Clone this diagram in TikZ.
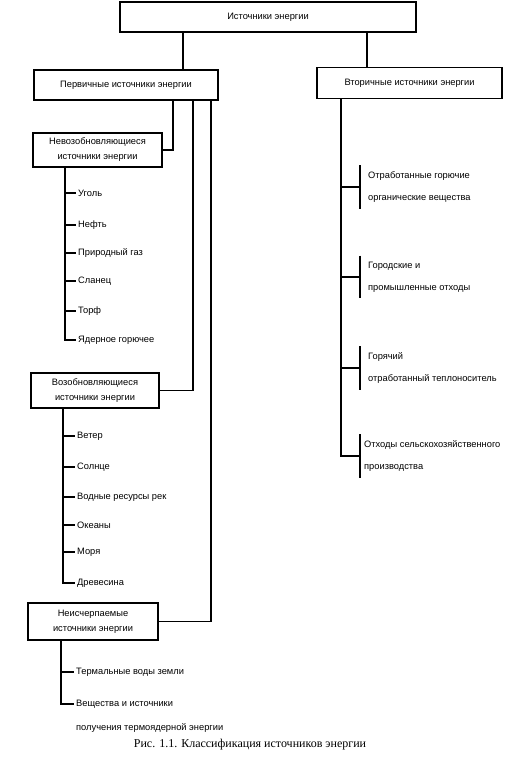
\documentclass[tikz,border=0pt]{standalone}
\usepackage{fontspec}
\setmainfont{Liberation Sans}
\newfontfamily\capfont{Liberation Serif}
\usetikzlibrary{positioning}

\begin{document}
\begin{tikzpicture}[
  x=1pt, y=-1pt,
  font=\fontsize{9.3}{11}\selectfont,
  box/.style={draw, line width=1.1pt, align=center},
  link/.style={line width=1.1pt},
  item/.style={anchor=west, inner sep=2pt},
  pair/.style={anchor=west, align=left, inner xsep=8pt, inner ysep=6pt},
]
  \useasboundingbox (0,0) rectangle (521,768);

  % Boxes
  \node[box, minimum width=296pt, minimum height=30pt] (src)   at (268,17)    {Источники энергии};
  \node[box, minimum width=184pt, minimum height=30pt] (perv)  at (126,85)    {Первичные источники энергии};
  \node[box, minimum width=185pt, minimum height=31pt] (vtor)  at (409.5,83)  {Вторичные источники энергии};
  \node[box, minimum width=129pt, minimum height=34pt] (nevoz) at (97.5,150)  {Невозобновляющиеся\\[4pt]источники энергии};
  \node[box, minimum width=128pt, minimum height=35pt] (voz)   at (95,390.5)  {Возобновляющиеся\\[4pt]источники энергии};
  \node[box, minimum width=130pt, minimum height=37pt] (neis)  at (93,621.5)  {Неисчерпаемые\\[4pt]источники энергии};

  % Line positions
  \coordinate (pl) at (183,0);
  \coordinate (vl) at (367,0);
  \coordinate (l1) at (173,0);
  \coordinate (l2) at (193,0);
  \coordinate (l3) at (211,0);
  \coordinate (nvt) at (65,0);
  \coordinate (vzt) at (63,0);
  \coordinate (nst) at (61,0);
  \coordinate (vrt) at (341,0);

  % Top links
  \draw[link] (src.south -| pl) -- (perv.north -| pl);
  \draw[link] (src.south -| vl) -- (vtor.north -| vl);
  \draw[link] (perv.south -| l1) |- (nevoz.east);
  \draw[link] (perv.south -| l2) |- (voz.east);
  \draw[link] (perv.south -| l3) |- (neis.east);

  % Non-renewable
  \node[item] (n1) at (76,193) {Уголь};
  \node[item] (n2) at (76,225) {Нефть};
  \node[item] (n3) at (76,253) {Природный газ};
  \node[item] (n4) at (76,281) {Сланец};
  \node[item] (n5) at (76,311) {Торф};
  \node[item] (n6) at (76,340) {Ядерное горючее};
  \draw[link] (nevoz.south -| nvt) |- (n6.west);
  \draw[link] (n1.west -| nvt) -- (n1.west);
  \draw[link] (n2.west -| nvt) -- (n2.west);
  \draw[link] (n3.west -| nvt) -- (n3.west);
  \draw[link] (n4.west -| nvt) -- (n4.west);
  \draw[link] (n5.west -| nvt) -- (n5.west);

  % Renewable
  \node[item] (r1) at (75,436) {Ветер};
  \node[item] (r2) at (75,467) {Солнце};
  \node[item] (r3) at (75,497) {Водные ресурсы рек};
  \node[item] (r4) at (75,525) {Океаны};
  \node[item] (r5) at (75,552) {Моря};
  \node[item] (r6) at (75,583) {Древесина};
  \draw[link] (voz.south -| vzt) |- (r6.west);
  \draw[link] (r1.west -| vzt) -- (r1.west);
  \draw[link] (r2.west -| vzt) -- (r2.west);
  \draw[link] (r3.west -| vzt) -- (r3.west);
  \draw[link] (r4.west -| vzt) -- (r4.west);
  \draw[link] (r5.west -| vzt) -- (r5.west);

  % Inexhaustible
  \node[item] (t1) at (74,672) {Термальные воды земли};
  \node[item] (t2) at (74,704) {Вещества и источники};
  \node[item] (t3) at (74,728) {получения термоядерной энергии};
  \draw[link] (neis.south -| nst) |- (t2.west);
  \draw[link] (t1.west -| nst) -- (t1.west);

  % Secondary
  \node[pair] (s1) at (360,187) {Отработанные горючие\\[11pt]органические вещества};
  \node[pair] (s2) at (360,277) {Городские и\\[11pt]промышленные отходы};
  \node[pair] (s3) at (360,368) {Горячий\\[11pt]отработанный теплоноситель};
  \node[pair, inner xsep=4pt] (s4) at (360,456) {Отходы сельскохозяйственного\\[11pt]производства};
  \draw[link] (vtor.south -| vrt) |- (s4.west);
  \draw[link] (s1.west -| vrt) -- (s1.west);
  \draw[link] (s2.west -| vrt) -- (s2.west);
  \draw[link] (s3.west -| vrt) -- (s3.west);
  \draw[link] (s1.north west) -- (s1.south west);
  \draw[link] (s2.north west) -- (s2.south west);
  \draw[link] (s3.north west) -- (s3.south west);
  \draw[link] (s4.north west) -- (s4.south west);

  % Caption
  \node[font=\capfont\fontsize{12}{14}\selectfont] (cap) at (250,745) {Рис. 1.1. Классификация источников энергии};
\end{tikzpicture}
\end{document}
